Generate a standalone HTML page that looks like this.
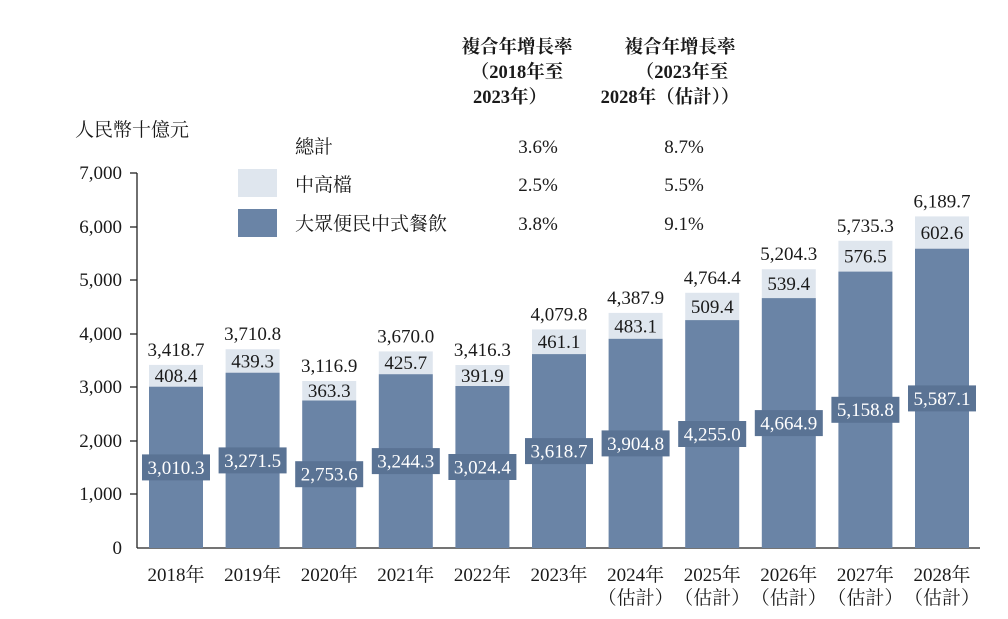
<!DOCTYPE html>
<html><head><meta charset="utf-8"><style>
body{margin:0;background:#fff}
svg{display:block}
text{font-family:"Liberation Serif","Noto Serif CJK TC","Noto Serif CJK SC",serif;fill:#1a1a1a}
.b{font-weight:bold}
.w{fill:#fff}
</style></head><body>
<svg width="1008" height="619" viewBox="0 0 1008 619" xmlns="http://www.w3.org/2000/svg">
<g font-size="18.5" text-anchor="middle">
<text x="517" y="53" class="b">複合年增長率</text>
<text x="517" y="78" class="b">（2018年至</text>
<text x="510" y="103" class="b">2023年）</text>
<text x="680" y="53" class="b">複合年增長率</text>
<text x="682" y="78" class="b">（2023年至</text>
<text x="670" y="103" class="b">2028年（估計））</text>
</g>
<text x="75" y="136" font-size="19">人民幣十億元</text>
<g font-size="19">
<text x="295" y="153">總計</text>
<text x="295" y="191">中高檔</text>
<text x="295" y="230">大眾便民中式餐飲</text>
<text x="538" y="153" text-anchor="middle">3.6%</text>
<text x="538" y="191" text-anchor="middle">2.5%</text>
<text x="538" y="230" text-anchor="middle">3.8%</text>
<text x="684" y="153" text-anchor="middle">8.7%</text>
<text x="684" y="191" text-anchor="middle">5.5%</text>
<text x="684" y="230" text-anchor="middle">9.1%</text>
</g>
<rect x="238" y="169" width="39" height="28" fill="#dfe6ee"/>
<rect x="238" y="209" width="39" height="28" fill="#6a84a6"/>
<g stroke="#222" stroke-width="1.3">
<line x1="137" y1="173" x2="137" y2="548"/>
<line x1="137" y1="548" x2="980" y2="548"/>
<line x1="130" y1="173" x2="137" y2="173"/>
<line x1="130" y1="227" x2="137" y2="227"/>
<line x1="130" y1="280" x2="137" y2="280"/>
<line x1="130" y1="334" x2="137" y2="334"/>
<line x1="130" y1="387" x2="137" y2="387"/>
<line x1="130" y1="441" x2="137" y2="441"/>
<line x1="130" y1="494" x2="137" y2="494"/>
</g>
<g font-size="19" text-anchor="end">
<text x="122" y="179">7,000</text>
<text x="122" y="233">6,000</text>
<text x="122" y="286">5,000</text>
<text x="122" y="340">4,000</text>
<text x="122" y="393">3,000</text>
<text x="122" y="447">2,000</text>
<text x="122" y="500">1,000</text>
<text x="122" y="554">0</text>
</g>
<g fill="#dfe6ee">
<rect x="149" y="364.9" width="54" height="21.9"/>
<rect x="225.6" y="349.2" width="54" height="23.5"/>
<rect x="302.2" y="381.0" width="54" height="19.5"/>
<rect x="378.8" y="351.4" width="54" height="22.8"/>
<rect x="455.4" y="365.0" width="54" height="21.0"/>
<rect x="532" y="329.4" width="54" height="24.7"/>
<rect x="608.6" y="312.9" width="54" height="25.9"/>
<rect x="685.2" y="292.8" width="54" height="27.3"/>
<rect x="761.8" y="269.2" width="54" height="28.9"/>
<rect x="838.4" y="240.8" width="54" height="30.9"/>
<rect x="915" y="216.4" width="54" height="32.3"/>
</g>
<g fill="#6a84a6">
<rect x="149" y="386.7" width="54" height="161.3"/>
<rect x="225.6" y="372.7" width="54" height="175.3"/>
<rect x="302.2" y="400.5" width="54" height="147.5"/>
<rect x="378.8" y="374.2" width="54" height="173.8"/>
<rect x="455.4" y="386.0" width="54" height="162.0"/>
<rect x="532" y="354.1" width="54" height="193.9"/>
<rect x="608.6" y="338.8" width="54" height="209.2"/>
<rect x="685.2" y="320.1" width="54" height="227.9"/>
<rect x="761.8" y="298.1" width="54" height="249.9"/>
<rect x="838.4" y="271.6" width="54" height="276.4"/>
<rect x="915" y="248.7" width="54" height="299.3"/>
</g>
<g fill="#5a7394">
<rect x="142" y="454.4" width="68" height="26"/>
<rect x="218.6" y="447.4" width="68" height="26"/>
<rect x="295.2" y="461.2" width="68" height="26"/>
<rect x="371.8" y="448.1" width="68" height="26"/>
<rect x="448.4" y="454.0" width="68" height="26"/>
<rect x="525" y="438.1" width="68" height="26"/>
<rect x="601.6" y="430.4" width="68" height="26"/>
<rect x="678.2" y="421.0" width="68" height="26"/>
<rect x="754.8" y="410.1" width="68" height="26"/>
<rect x="831.4" y="396.8" width="68" height="26"/>
<rect x="908" y="385.4" width="68" height="26"/>
</g>
<g font-size="19" text-anchor="middle">
<text class="w" x="176" y="473.8">3,010.3</text>
<text class="w" x="252.6" y="466.8">3,271.5</text>
<text class="w" x="329.2" y="480.6">2,753.6</text>
<text class="w" x="405.8" y="467.5">3,244.3</text>
<text class="w" x="482.4" y="473.4">3,024.4</text>
<text class="w" x="559" y="457.5">3,618.7</text>
<text class="w" x="635.6" y="449.8">3,904.8</text>
<text class="w" x="712.2" y="440.4">4,255.0</text>
<text class="w" x="788.8" y="429.5">4,664.9</text>
<text class="w" x="865.4" y="416.2">5,158.8</text>
<text class="w" x="942" y="404.8">5,587.1</text>

<text x="176" y="382.2">408.4</text>
<text x="252.6" y="367.4">439.3</text>
<text x="329.2" y="397.2">363.3</text>
<text x="405.8" y="369.2">425.7</text>
<text x="482.4" y="381.9">391.9</text>
<text x="559" y="348.2">461.1</text>
<text x="635.6" y="332.3">483.1</text>
<text x="712.2" y="312.8">509.4</text>
<text x="788.8" y="290.1">539.4</text>
<text x="865.4" y="262.6">576.5</text>
<text x="942" y="239.0">602.6</text>

<text x="176" y="355.9">3,418.7</text>
<text x="252.6" y="340.2">3,710.8</text>
<text x="329.2" y="372.0">3,116.9</text>
<text x="405.8" y="342.4">3,670.0</text>
<text x="482.4" y="356.0">3,416.3</text>
<text x="559" y="320.4">4,079.8</text>
<text x="635.6" y="303.9">4,387.9</text>
<text x="712.2" y="283.8">4,764.4</text>
<text x="788.8" y="260.2">5,204.3</text>
<text x="865.4" y="231.8">5,735.3</text>
<text x="942" y="207.4">6,189.7</text>

<text x="176" y="581">2018年</text>
<text x="252.6" y="581">2019年</text>
<text x="329.2" y="581">2020年</text>
<text x="405.8" y="581">2021年</text>
<text x="482.4" y="581">2022年</text>
<text x="559" y="581">2023年</text>
<text x="635.6" y="581">2024年</text>
<text x="712.2" y="581">2025年</text>
<text x="788.8" y="581">2026年</text>
<text x="865.4" y="581">2027年</text>
<text x="942" y="581">2028年</text>
<text x="635.6" y="604">（估計）</text>
<text x="712.2" y="604">（估計）</text>
<text x="788.8" y="604">（估計）</text>
<text x="865.4" y="604">（估計）</text>
<text x="942" y="604">（估計）</text>
</g>
</svg>
</body></html>
